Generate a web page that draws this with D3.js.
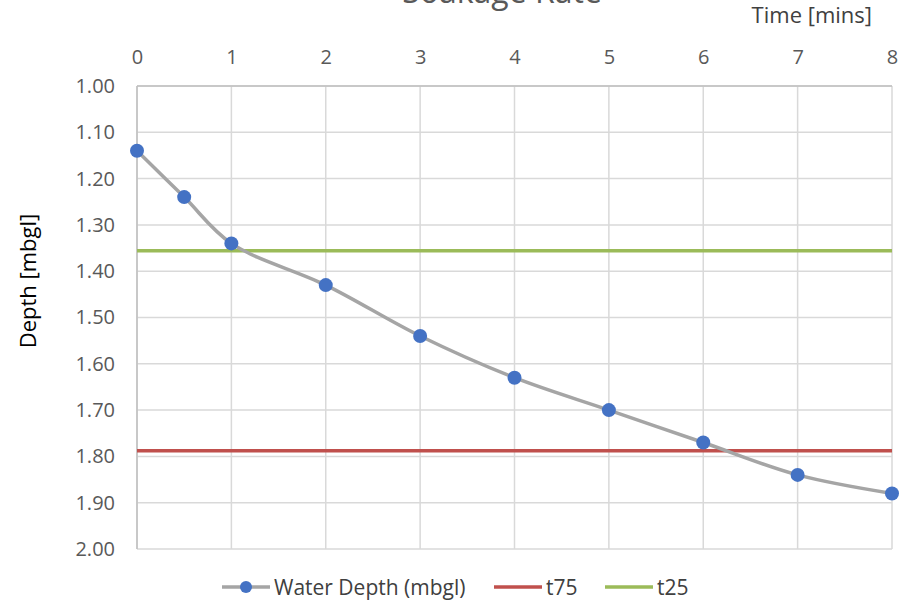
<!DOCTYPE html>
<html><head><meta charset="utf-8">
<script src="https://cdn.jsdelivr.net/npm/d3@7"></script>
<style>body{margin:0;background:#fff}svg{display:block}</style>
</head><body>
<svg id="c" width="904" height="601"></svg>
<script>
const times = [0, 0.5, 1, 2, 3, 4, 5, 6, 7, 8];
const depths = [1.14, 1.24, 1.34, 1.43, 1.54, 1.63, 1.70, 1.77, 1.84, 1.88];
const t75 = 1.788;
const t25 = 1.356;
const xTicks = [0, 1, 2, 3, 4, 5, 6, 7, 8];
const yTicks = [1.0, 1.1, 1.2, 1.3, 1.4, 1.5, 1.6, 1.7, 1.8, 1.9, 2.0];
const seriesNames = ["Water Depth (mbgl)", "t75", "t25"];
const colors = {line: "#a5a5a5", marker: "#4472c4", t75: "#c0504d", t25: "#9bbb59"};

const svg = d3.select("#c");
const font = "'Open Sans', 'Noto Sans', sans-serif";
const x = d3.scaleLinear().domain([0, 8]).range([137, 892]);
const y = d3.scaleLinear().domain([1.0, 2.0]).range([86, 549]);

// gridlines
svg.append("g").selectAll("line").data(yTicks).join("line")
  .attr("x1", x(0)).attr("x2", x(8)).attr("y1", d => y(d)).attr("y2", d => y(d))
  .attr("stroke", "#d9d9d9").attr("stroke-width", 1.5);
svg.append("g").selectAll("line").data(xTicks).join("line")
  .attr("y1", y(1)).attr("y2", y(2)).attr("x1", d => x(d)).attr("x2", d => x(d))
  .attr("stroke", "#d9d9d9").attr("stroke-width", 1.5);
// axis lines
svg.append("line").attr("x1", x(0)).attr("x2", x(8)).attr("y1", y(1)).attr("y2", y(1))
  .attr("stroke", "#bfbfbf").attr("stroke-width", 1.5);
svg.append("line").attr("x1", x(0)).attr("x2", x(0)).attr("y1", y(1)).attr("y2", y(2))
  .attr("stroke", "#bfbfbf").attr("stroke-width", 1.5);

// axes via d3
const xAxis = svg.append("g").attr("transform", `translate(0,${y(1)})`)
  .call(d3.axisTop(x).tickValues(xTicks).tickFormat(d3.format("d")).tickSize(0).tickPadding(22));
xAxis.select(".domain").remove();
xAxis.selectAll("text").attr("font-family", font).attr("font-size", 20).attr("fill", "#595959");

const yAxis = svg.append("g").attr("transform", `translate(${x(0)},0)`)
  .call(d3.axisLeft(y).tickValues(yTicks).tickFormat(d3.format(".2f")).tickSize(0).tickPadding(22));
yAxis.select(".domain").remove();
yAxis.selectAll("text").attr("font-family", font).attr("font-size", 20).attr("fill", "#595959");

// threshold lines
svg.append("line").attr("x1", x(0)).attr("x2", x(8)).attr("y1", y(t25)).attr("y2", y(t25))
  .attr("stroke", colors.t25).attr("stroke-width", 3.5);
svg.append("line").attr("x1", x(0)).attr("x2", x(8)).attr("y1", y(t75)).attr("y2", y(t75))
  .attr("stroke", colors.t75).attr("stroke-width", 3.5);

// data line
const pts = times.map((t, i) => [t, depths[i]]);
svg.append("path").datum(pts)
  .attr("d", d3.line().x(d => x(d[0])).y(d => y(d[1])).curve(d3.curveCatmullRom.alpha(0.5)))
  .attr("fill", "none").attr("stroke", colors.line).attr("stroke-width", 3.5);
svg.append("g").selectAll("circle").data(pts).join("circle")
  .attr("cx", d => x(d[0])).attr("cy", d => y(d[1])).attr("r", 7)
  .attr("fill", colors.marker);

// titles
svg.append("text").attr("x", 502).attr("y", 3).attr("text-anchor", "middle")
  .attr("font-family", font).attr("font-size", 32).attr("fill", "#595959").text("Soakage Rate");
svg.append("text").attr("x", 872).attr("y", 23).attr("text-anchor", "end")
  .attr("font-family", font).attr("font-size", 22).attr("fill", "#404040").text("Time [mins]");
svg.append("text").attr("transform", "translate(36,281) rotate(-90)").attr("text-anchor", "middle")
  .attr("font-family", font).attr("font-size", 22).attr("fill", "#000").text("Depth [mbgl]");

// legend
const leg = svg.append("g").attr("font-family", font).attr("font-size", 21).attr("fill", "#404040");
const ly = 587;
const items = [
  {name: seriesNames[0], x0: 222, color: colors.line, marker: true},
  {name: seriesNames[1], x0: 494, color: colors.t75},
  {name: seriesNames[2], x0: 605, color: colors.t25}
];
items.forEach(it => {
  leg.append("line").attr("x1", it.x0).attr("x2", it.x0 + 48).attr("y1", ly).attr("y2", ly)
    .attr("stroke", it.color).attr("stroke-width", 3.5);
  if (it.marker) leg.append("circle").attr("cx", it.x0 + 24).attr("cy", ly).attr("r", 6).attr("fill", colors.marker);
  leg.append("text").attr("x", it.x0 + 52).attr("y", ly + 7.5).text(it.name);
});
</script>
</body></html>
